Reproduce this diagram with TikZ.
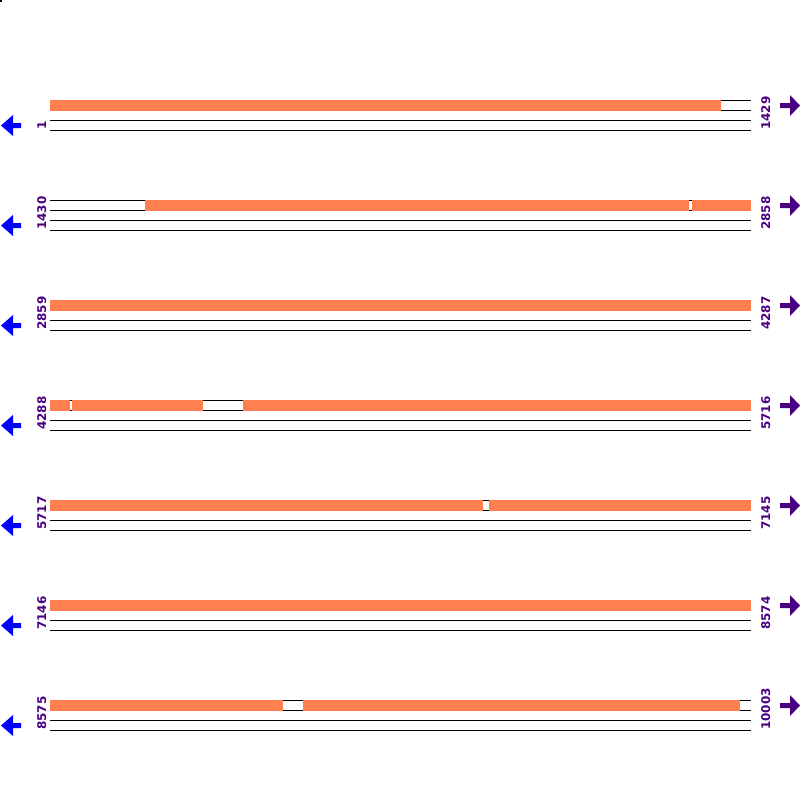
\documentclass[tikz,border=0pt]{standalone}
\usepackage{fontspec}
\setmainfont{DejaVu Sans}
\definecolor{covorange}{RGB}{255,127,80}
\definecolor{posviolet}{RGB}{75,0,130}
\tikzset{
trackline/.style={
  black, line width=1pt
  },
covbar/.style={
  fill=covorange, draw=none
  },
poslabel/.style={
  rotate=90, anchor=base west, inner sep=0pt,
  text=posviolet, font=\fontsize{12}{12}\selectfont\bfseries
  },
fwdarrow/.style={fill=posviolet, draw=none},
revarrow/.style={fill=blue, draw=none}
}
\begin{document}
\begin{tikzpicture}[x=1pt,y=-1pt]
\useasboundingbox (0,0) rectangle (800,800);
\fill (0,0) rectangle (2,2);

% tracks, position labels and strand arrows
\foreach \row/\first/\last in {1/1/1429, 2/1430/2858, 3/2859/4287,
    4/4288/5716, 5/5717/7145, 6/7146/8574, 7/8575/10003} {
  \pgfmathsetmacro{\ytop}{100*\row}
  \foreach \k in {0,10,20,30}
    \draw[trackline] (50,\ytop+\k) -- (751,\ytop+\k);
  \node[poslabel] (first\row) at (46,\ytop+30) {\first};
  \node[poslabel] (last\row) at (770,\ytop+30) {\last};
  \fill[revarrow] (1,\ytop+25.5) -- (13,\ytop+15) -- (13,\ytop+23)
    -- (21,\ytop+23) -- (21,\ytop+28) -- (13,\ytop+28)
    -- (13,\ytop+36) -- cycle;
  \fill[fwdarrow] (800,\ytop+5.5) -- (790,\ytop-5) -- (790,\ytop+3)
    -- (780,\ytop+3) -- (780,\ytop+8) -- (790,\ytop+8)
    -- (790,\ytop+16) -- cycle;
}

% covered stretches
\foreach \row/\xa/\xb in {1/50/721, 2/145/689, 2/692/751, 3/50/751,
    4/50/70, 4/72/203, 4/243/751, 5/50/483, 5/489/751, 6/50/751,
    7/50/283, 7/303/740} {
  \pgfmathsetmacro{\ytop}{100*\row}
  \fill[covbar] (\xa,\ytop-0.5) rectangle (\xb,\ytop+10.5);
}

\end{tikzpicture}
\end{document}
